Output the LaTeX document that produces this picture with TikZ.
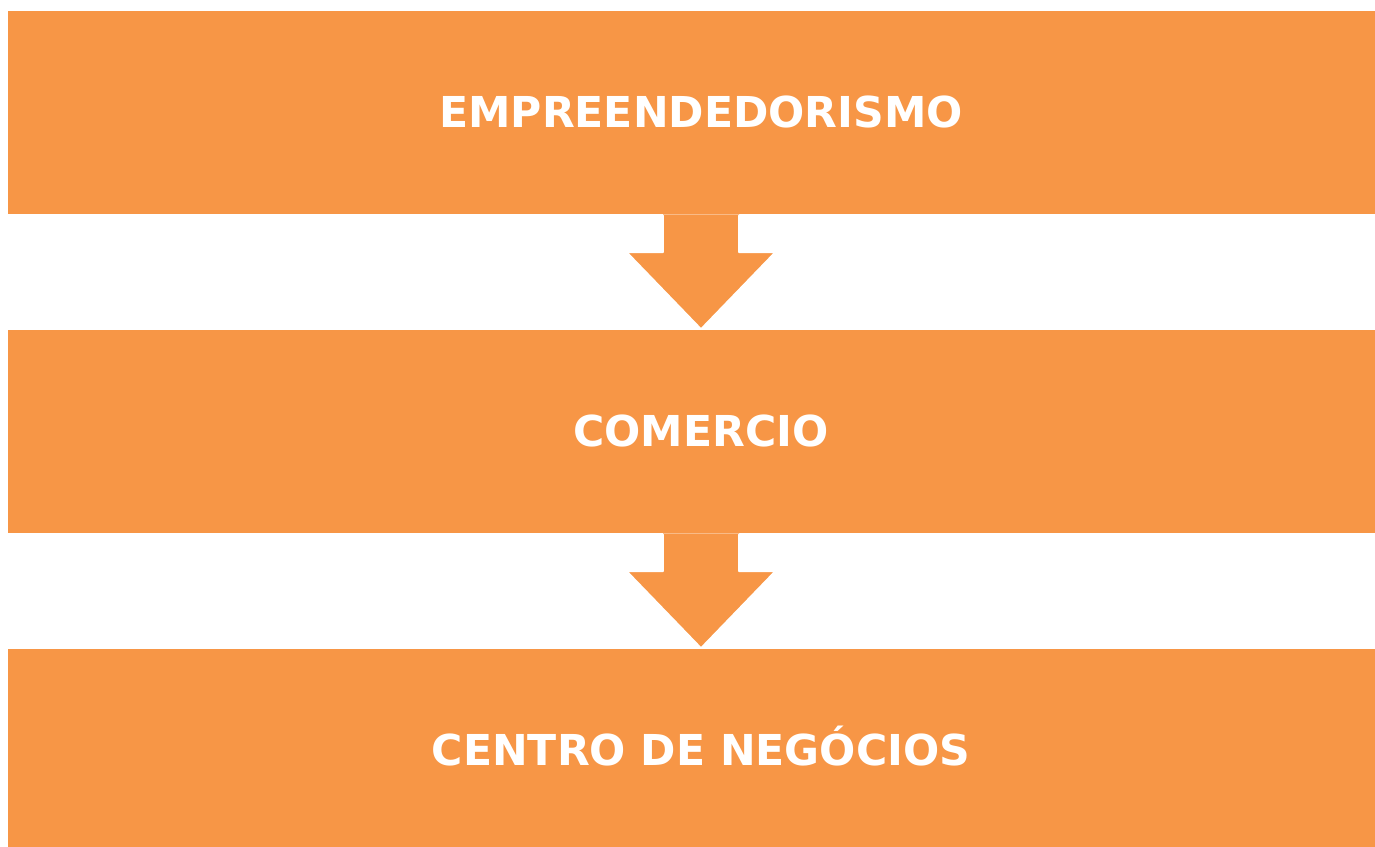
\documentclass[tikz,border=0pt]{standalone}
\usepackage{fontspec}
\setmainfont{DejaVu Sans}
\usetikzlibrary{calc}
\definecolor{boxorange}{HTML}{F79646}
\tikzset{
  stagebox/.style={fill=boxorange, draw=none, minimum width=1386pt, minimum height=203pt, inner sep=0pt, anchor=north west},
  stagetext/.style={text=white, font=\bfseries\fontsize{42.6}{50}\selectfont, inner sep=0pt, anchor=base},
  arrowedge/.style={draw=white, line width=1.6pt, line join=round, line cap=round}
}
\begin{document}
\begin{tikzpicture}[x=1pt,y=-1pt]
\useasboundingbox (0,0) rectangle (1375,846);
\clip (0,0) rectangle (1375,846);
\fill[white] (0,0) rectangle (1375,846);
\node[stagebox] (b1) at (8,11) {};
\node[stagebox] (b2) at (8,330) {};
\node[stagebox] (b3) at (8,649) {};
\node[stagetext] (t1) at (701,127) {EMPREENDEDORISMO};
\node[stagetext] (t2) at (701,446) {COMERCIO};
\node[stagetext] (t3) at (701,765) {CENTRO DE NEGÓCIOS};
% arrows
\foreach \a/\b in {b1/b2, b2/b3}{
  \coordinate (s) at ($(\a.south west)+(693,0)$);
  \coordinate (e) at ($(\b.north west)+(693,-1)$);
  \fill[boxorange] ($(s)+(-38,0)$) -- ($(s)+(-38,38)$) -- ($(s)+(-74,38)$) -- (e) -- ($(s)+(74,38)$) -- ($(s)+(38,38)$) -- ($(s)+(38,0)$) -- cycle;
  \draw[arrowedge] ($(s)+(-38,1)$) -- ($(s)+(-38,38)$) -- ($(s)+(-74,38)$) -- (e) -- ($(s)+(74,38)$) -- ($(s)+(38,38)$) -- ($(s)+(38,1)$);
}
\end{tikzpicture}
\end{document}
